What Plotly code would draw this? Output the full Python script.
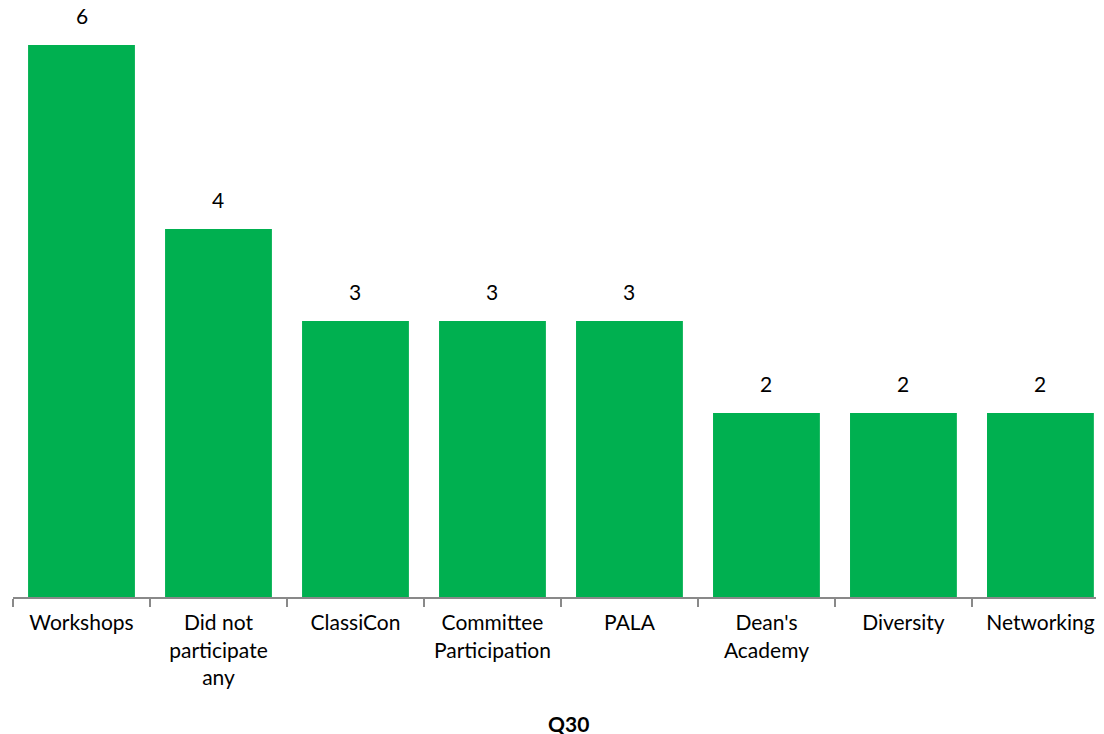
import plotly.graph_objects as go

categories = ["Workshops", "Did not<br>participate<br>any", "ClassiCon", "Committee<br>Participation",
              "PALA", "Dean's<br>Academy", "Diversity", "Networking"]
values = [6, 4, 3, 3, 3, 2, 2, 2]
title_text = "Q30"

# page has an 8px body margin; the figure is sized to fill the rest
W, H = 1096, 726
ml, mr, mt, mb = 5, 0, 0, 137
plot_h = H - mt - mb
fnt = "Lato, 'Open Sans', sans-serif"

fig = go.Figure(go.Bar(
    x=categories, y=values, marker=dict(color="#00B050", line=dict(width=0)),
    cliponaxis=False,
))

annotations = [dict(x=c, y=v, xref="x", yref="y", text=str(v), showarrow=False,
                    yanchor="middle", yshift=30,
                    font=dict(family=fnt, size=21, color="#000000"))
               for c, v in zip(categories, values)]
annotations.append(dict(text="<b>" + title_text + "</b>", xref="paper", yref="paper",
                        x=(560 - ml) / (W - ml - mr), y=-(715 - 589) / plot_h,
                        xanchor="center", yanchor="middle", showarrow=False,
                        font=dict(family=fnt, size=21, color="#000000")))

fig.update_layout(
    width=W, height=H, margin=dict(l=ml, r=mr, t=mt, b=mb, pad=0),
    paper_bgcolor="white", plot_bgcolor="white", bargap=0.22, showlegend=False,
    font=dict(family=fnt, size=21, color="#000000"),
    xaxis=dict(range=[-0.5, 7.464], showline=True, linecolor="#898989", linewidth=2,
               ticks="outside", tickson="boundaries", ticklen=8, tickcolor="#898989", tickwidth=2,
               ticklabelstandoff=6,
               tickfont=dict(family=fnt, size=21, color="#000000"), showgrid=False),
    yaxis=dict(range=[0, plot_h / 92.0], visible=False, showgrid=False, zeroline=False),
    annotations=annotations,
)

fig.write_html("out.html")
